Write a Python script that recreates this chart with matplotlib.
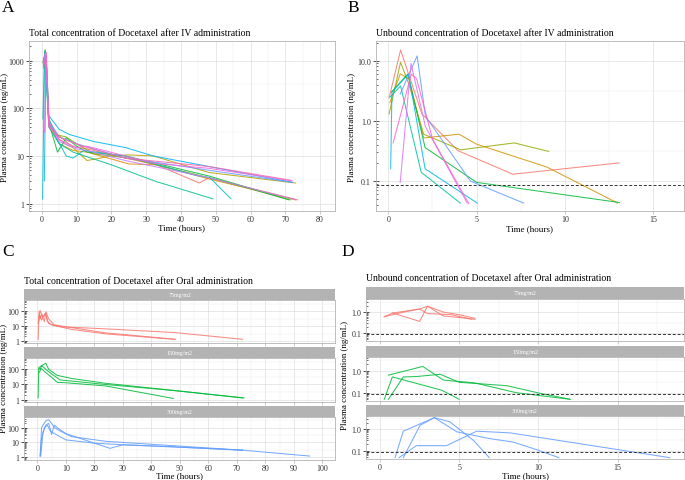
import numpy as np
import matplotlib
matplotlib.use("Agg")
import matplotlib.pyplot as plt
from matplotlib.ticker import FixedLocator, NullFormatter

plt.rcParams["font.family"] = ["Liberation Serif", "DejaVu Serif"]

# ---- Panel A: total concentration after IV (ng/mL) ----
iv_total_times = [
    [0.5, 1.0, 1.5, 2, 5, 8, 13, 24, 33, 45.3, 48, 73.5],
    [0.5, 1.0, 1.5, 2, 5, 9, 13, 25, 33, 48, 73],
    [0.5, 1.0, 2, 4, 7, 13, 20, 25, 32, 48, 73],
    [0.5, 1.0, 2, 4, 7, 10, 15, 25, 48, 71.5],
    [0.3, 1.0, 2, 4.5, 7, 10, 13, 24, 48, 71],
    [0.3, 0.8, 2, 5, 9, 20, 32.9, 49.2],
    [0.2, 0.8, 2, 4, 7, 9, 12, 24, 44.4, 48.3, 54.4],
    [0.7, 1.2, 2, 5, 8, 15, 24, 32, 48, 72],
    [0.5, 1.0, 2, 5, 10, 15, 24, 32, 48, 72],
    [0.5, 1.0, 2, 5, 10, 13, 24, 48, 73],
    [0.8, 1.2, 2, 5, 10, 13, 24, 32, 48, 72],
    [0.5, 1.3, 2, 5, 8, 13, 24, 48, 71.5],
]
iv_total_conc = [
    [800, 1400, 600, 50, 22, 16, 14, 9, 6.5, 2.7, 3.5, 1.2],
    [900, 1500, 500, 45, 18, 13, 12, 6.8, 6.5, 3.3, 1.2],
    [1000, 1600, 60, 30, 20, 8, 10, 10.5, 10, 4.5, 2.7],
    [700, 1700, 45, 28, 25, 18, 11, 9, 3.5, 1.2],
    [900, 1500, 50, 12, 24, 16, 12, 10, 3.8, 1.2],
    [60, 1600, 40, 18, 12, 6.5, 2.9, 1.26],
    [1.26, 1300, 60, 25, 10, 9, 13, 10, 3.9, 3.5, 1.26],
    [3, 1200, 70, 36, 28, 20, 15, 10, 6, 2.8],
    [800, 1400, 55, 25, 18, 14, 9, 7.5, 5, 2.8],
    [900, 1500, 45, 20, 14, 13, 8, 3.5, 1.2],
    [32, 1300, 50, 22, 15, 16, 10, 7, 5.5, 3],
    [700, 1500, 40, 25, 20, 15, 9, 6, 3.1],
]

# ---- Panel B: unbound concentration after IV (ng/mL) ----
iv_unbound_times = [
    [0.04, 0.69, 1.9, 3.94, 7.05, 13.08],
    [0.08, 0.67, 1.17, 2.0, 4.0, 5.0, 9.0, 13.0],
    [0.04, 0.69, 1.17, 2.0, 4.1, 7.14, 9.09],
    [0.17, 1.1, 2.08, 5.0, 13.1],
    [0.1, 0.69, 1.86, 4.08],
    [0.13, 0.2, 1.14, 2.08, 5.04],
    [0.67, 1.63, 2.1, 4.65, 7.67],
    [0.67, 1.28, 2.1, 4.47],
    [0.27, 1.3, 1.6, 2.5, 4.56],
]
iv_unbound_conc = [
    [2.4, 15, 1.3, 0.32, 0.13, 0.2],
    [2.0, 6.0, 5.0, 0.52, 0.6, 0.41, 0.17, 0.043],
    [1.3, 9.4, 4.0, 0.6, 0.33, 0.43, 0.31],
    [3.0, 6.0, 0.36, 0.095, 0.044],
    [2.5, 3.8, 0.14, 0.043],
    [0.16, 3.0, 6.0, 0.16, 0.043],
    [2.8, 12, 1.2, 0.1, 0.043],
    [0.095, 9, 0.8, 0.043],
    [0.43, 6.0, 5.0, 0.5, 0.042],
]

# ---- Panel C: total concentration after oral, by dose ----
doses = ["75mg/m2", "150mg/m2", "300mg/m2"]
oral_total_times = [
    [[0.3, 0.6, 1, 1.5, 2.5, 3, 4, 6, 10, 24, 48.5],
     [0.5, 1, 2, 3, 3.5, 5, 8, 24, 48, 72],
     [0.3, 0.8, 1.5, 2.8, 4, 6, 12, 24, 48]],
    [[0.3, 0.5, 1, 2, 3, 4, 7, 12, 24, 48, 72],
     [0.5, 1, 2, 3, 5, 7, 10, 24, 47.7],
     [0.5, 1, 1.5, 3, 5, 8, 24, 48, 72.5]],
    [[1.0, 1.5, 2, 3, 4, 5, 6, 8, 12, 24, 48, 72, 95.5],
     [1.2, 2, 3, 4, 5, 6, 7, 10, 25.5, 30, 48, 72],
     [1.0, 1.5, 2.5, 3.5, 4.5, 6, 10, 20, 30, 48, 72]],
]
oral_total_conc = [
    [[1.3, 100, 30, 60, 20, 90, 30, 12, 9, 3.5, 1.3],
     [20, 110, 40, 80, 20, 12, 9, 6.5, 3.7, 1.3],
     [15, 60, 25, 70, 15, 11, 6, 3, 1.3]],
    [[1.3, 130, 150, 200, 250, 100, 40, 25, 12, 4, 1.3],
     [100, 120, 90, 60, 30, 14, 13, 8, 1.2],
     [60, 80, 180, 100, 50, 20, 10, 4, 1.3]],
    [[1.2, 100, 150, 300, 350, 200, 100, 60, 25, 12, 6, 3, 1.2],
     [1.2, 50, 150, 200, 35, 150, 100, 40, 4, 7, 5, 3],
     [1.2, 20, 100, 150, 60, 40, 15, 9, 7, 5, 3]],
]

# ---- Panel D: unbound concentration after oral, by dose ----
oral_unbound_times = [
    [[0.27, 0.8, 2.5, 3.0, 4.0, 5.0, 6.0],
     [0.8, 2.5, 3.0, 4.0, 5.0, 6.0],
     [0.27, 1.5, 2.5, 3.0, 4.5, 5.8]],
    [[0.53, 2.7, 4.0, 6.0, 8.6, 12.0],
     [0.27, 0.78, 3.9, 5.0],
     [0.53, 1.47, 2.3, 3.8, 5.0, 8.0, 10.1, 12.0]],
    [[0.95, 1.47, 3.43, 4.4, 5.9, 6.9],
     [1.47, 2.53, 3.43, 4.85, 6.85, 8.4, 9.9, 11.3],
     [1.2, 2.3, 4.2, 6.1, 8.2, 18.3]],
]
oral_unbound_conc = [
    [[0.6, 0.9, 1.4, 1.9, 1.0, 0.75, 0.5],
     [0.9, 0.36, 1.9, 0.65, 0.55, 0.45],
     [0.6, 1.0, 1.4, 0.85, 0.75, 0.45]],
    [[0.64, 1.6, 0.38, 0.28, 0.1, 0.05],
     [0.05, 0.53, 0.13, 0.05],
     [0.05, 0.53, 0.55, 0.7, 0.3, 0.21, 0.094, 0.05]],
    [[0.047, 0.8, 3.4, 2.2, 0.3, 0.047],
     [0.047, 1.5, 3.4, 0.75, 0.37, 0.25, 0.11, 0.047],
     [0.047, 0.17, 0.17, 0.8, 0.67, 0.047]],
]

lloq = 0.085


def hue_pal(n):
    # ggplot2-like default hue palette
    base = {
        3: ["#F8766D", "#00BA38", "#619CFF"],
        9: ["#F8766D", "#D39200", "#93AA00", "#00BA38", "#00C19F",
            "#00B9E3", "#619CFF", "#DB72FB", "#FF61C3"],
        12: ["#F8766D", "#DE8C00", "#B79F00", "#7CAE00", "#00BA38", "#00C08B",
             "#00BFC4", "#00B4F0", "#619CFF", "#C77CFF", "#F564E3", "#FF64B0"],
    }
    return base[n]


W, H = 685, 481
fig = plt.figure(figsize=(W / 100, H / 100), dpi=100)


def add_ax(l, t, r, b):
    return fig.add_axes([l / W, 1 - b / H, (r - l) / W, (b - t) / H])


def fig_text(x, y, s, **kw):
    return fig.text(x / W, 1 - y / H, s, **kw)


def style(ax, xlim, ylim, xticks, yticks, ylabels, show_x=True):
    ax.set_yscale("log")
    ax.set_xlim(*xlim)
    ax.set_ylim(*ylim)
    ax.set_facecolor("white")
    # grid: major + minor (midpoints, like ggplot)
    for x in xticks:
        ax.axvline(x, color="#DEDEDE", lw=0.5, zorder=0)
    step = xticks[1] - xticks[0]
    for x in np.arange(xticks[0] - step / 2, xlim[1], step):
        if x > xlim[0]:
            ax.axvline(x, color="#EDEDED", lw=0.35, zorder=0)
    for y in yticks:
        ax.axhline(y, color="#DEDEDE", lw=0.5, zorder=0)
    for y in list(yticks) + [yticks[0] / 10]:
        ym = y * np.sqrt(10)
        if ylim[0] < ym < ylim[1]:
            ax.axhline(ym, color="#EDEDED", lw=0.35, zorder=0)
    ax.xaxis.set_major_locator(FixedLocator(xticks))
    ax.yaxis.set_major_locator(FixedLocator(yticks))
    ax.set_yticklabels(ylabels)
    # log ticks on the left
    lo = int(np.floor(np.log10(ylim[0])))
    hi = int(np.ceil(np.log10(ylim[1])))
    minors = [m * 10.0 ** e for e in range(lo, hi) for m in range(2, 10)]
    minors = [m for m in minors if ylim[0] < m < ylim[1]]
    ax.yaxis.set_minor_locator(FixedLocator(minors))
    ax.yaxis.set_minor_formatter(NullFormatter())
    ax.tick_params(axis="y", which="major", direction="inout", length=4,
                   width=0.6, color="#333333", labelsize=5.8,
                   labelcolor="#333333", pad=1.5)
    ax.tick_params(axis="y", which="minor", direction="in", length=1.6,
                   width=0.5, color="#333333")
    ax.tick_params(axis="x", which="major", length=2, width=0.5,
                   color="#B3B3B3", labelsize=5.8, labelcolor="#333333",
                   pad=1.0, labelbottom=show_x)
    ax.tick_params(axis="x", which="minor", length=0)
    for s in ax.spines.values():
        s.set_color("#B3B3B3")
        s.set_linewidth(0.6)


def strip(l, t, r, b, label):
    sa = add_ax(l, t, r, b)
    sa.set_facecolor("#B3B3B3")
    sa.set_xticks([])
    sa.set_yticks([])
    for s in sa.spines.values():
        s.set_visible(False)
    sa.text(0.5, 0.5, label, color="white", fontsize=4.3, ha="center",
            va="center", transform=sa.transAxes)


lw = 0.75
alpha = 0.85
lab_fs = 6.5
title_fs = 7

# ---- A ----
axA = add_ax(29, 42, 335, 212)
cols = hue_pal(12)
for i, (t, c) in enumerate(zip(iv_total_times, iv_total_conc)):
    axA.plot(t, c, color=cols[i], lw=lw, alpha=alpha)
style(axA, (-3.7, 84.3), (0.70, 2570), list(range(0, 81, 10)),
      [1, 10, 100, 1000], ["1", "10", "100", "1000"])
axA.set_title("Total concentration of Docetaxel after IV administration",
              fontsize=title_fs, loc="left", pad=4)
fig_text(182, 228, "Time (hours)", fontsize=lab_fs, ha="center", va="center")
fig_text(5.5, 127, "Plasma concentration (ng/mL)", fontsize=lab_fs,
         rotation=90, ha="center", va="center")

# ---- B ----
axB = add_ax(375.7, 42, 684, 212)
cols = hue_pal(9)
for i, (t, c) in enumerate(zip(iv_unbound_times, iv_unbound_conc)):
    axB.plot(t, c, color=cols[i], lw=lw, alpha=alpha)
axB.axhline(lloq, color="#333333", lw=0.7, ls=(0, (3, 2)))
style(axB, (-0.72, 16.76), (0.0318, 21.2), [0, 5, 10, 15],
      [0.1, 1, 10], ["0.1", "1.0", "10.0"])
axB.set_title("Unbound concentration of Docetaxel after IV administration",
              fontsize=title_fs, loc="left", pad=4)
fig_text(530, 229, "Time (hours)", fontsize=lab_fs, ha="center", va="center")
fig_text(352, 127, "Plasma concentration (ng/mL)", fontsize=lab_fs,
         rotation=90, ha="center", va="center")

# ---- C ----
cols = hue_pal(3)
c_panels = [(301, 344.3), (359, 403), (417.7, 460.5)]
c_strips = [(290, 301), (348, 359), (406.7, 417.7)]
for k in range(3):
    strip(24.3, c_strips[k][0], 335, c_strips[k][1], doses[k])
    ax = add_ax(24.3, c_panels[k][0], 335, c_panels[k][1])
    for t, c in zip(oral_total_times[k], oral_total_conc[k]):
        ax.plot(t, c, color=cols[k], lw=lw, alpha=alpha)
    style(ax, (-4.56, 104.4), (0.70, 560), list(range(0, 101, 10)),
          [1, 10, 100], ["1", "10", "100"], show_x=(k == 2))
fig_text(24.3, 282, "Total concentration of Docetaxel after Oral administration",
         fontsize=title_fs, ha="left", va="center")
fig_text(180, 480.5, "Time (hours)", fontsize=lab_fs, ha="center", va="bottom")
fig_text(4, 378, "Plasma concentration (ng/mL)", fontsize=lab_fs,
         rotation=90, ha="center", va="center")

# ---- D ----
d_panels = [(300, 341.7), (358.3, 401.7), (416.7, 459.5)]
d_strips = [(288, 300), (346.7, 358.3), (405.7, 416.7)]
for k in range(3):
    strip(366, d_strips[k][0], 684, d_strips[k][1], doses[k])
    ax = add_ax(366, d_panels[k][0], 684, d_panels[k][1])
    for t, c in zip(oral_unbound_times[k], oral_unbound_conc[k]):
        ax.plot(t, c, color=cols[k], lw=lw, alpha=alpha)
    ax.axhline(lloq, color="#333333", lw=0.7, ls=(0, (3, 2)))
    style(ax, (-0.885, 19.2), (0.043, 4.2), [0, 5, 10, 15],
          [0.1, 1], ["0.1", "1.0"], show_x=(k == 2))
fig_text(366, 279, "Unbound concentration of Docetaxel after Oral administration",
         fontsize=title_fs, ha="left", va="center")
fig_text(525, 480.5, "Time (hours)", fontsize=lab_fs, ha="center", va="bottom")
fig_text(345, 375, "Plasma concentration (ng/mL)", fontsize=lab_fs,
         rotation=90, ha="center", va="center")

# panel letters
for letter, x, y in [("A", 2, 8), ("B", 347, 8), ("C", 2, 252), ("D", 341, 252)]:
    fig_text(x, y, letter, fontsize=12.5, ha="left", va="center")

fig.savefig("out.png", dpi=100)
